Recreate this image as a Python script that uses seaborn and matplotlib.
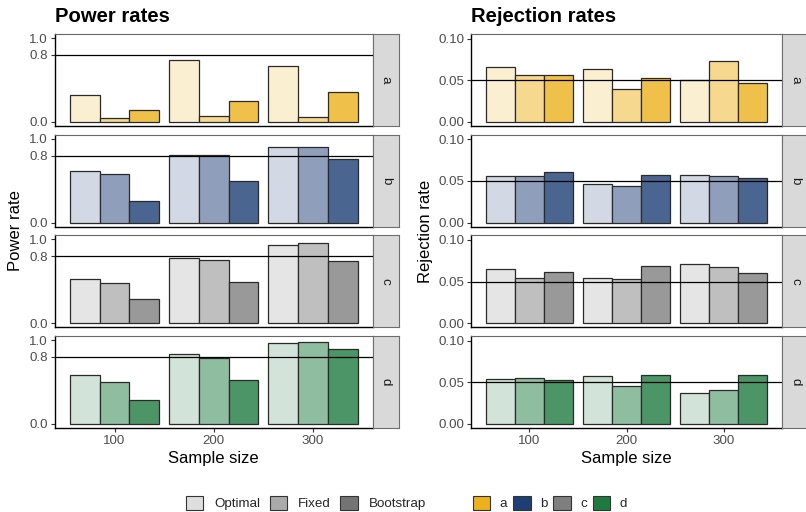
import numpy as np
import pandas as pd
import matplotlib
matplotlib.use("Agg")
import matplotlib.pyplot as plt
import seaborn as sns
from matplotlib.patches import Patch
from matplotlib.colors import to_rgb

# ---------------- data ----------------
sample_sizes = ["100", "200", "300"]
methods = ["Optimal", "Fixed", "Bootstrap"]
scenarios = ["a", "b", "c", "d"]
scenario_colors = ["#ECB11D", "#1E3E76", "#7F7F7F", "#1F7A40"]
method_alpha = [0.2, 0.5, 0.8]
method_legend_colors = ["#DEDEDE", "#AAAAAA", "#747474"]

# power rates: rows = methods (Optimal, Fixed, Bootstrap), cols = sample sizes
power_a = [[0.317, 0.738, 0.667], [0.048, 0.067, 0.060], [0.143, 0.254, 0.353]]
power_b = [[0.620, 0.812, 0.904], [0.584, 0.812, 0.908], [0.260, 0.500, 0.760]]
power_c = [[0.530, 0.781, 0.940], [0.482, 0.757, 0.960], [0.283, 0.494, 0.737]]
power_d = [[0.588, 0.840, 0.964], [0.500, 0.792, 0.984], [0.280, 0.520, 0.896]]

# rejection rates
reject_a = [[0.0656, 0.0632, 0.0504], [0.0560, 0.0400, 0.0736], [0.0564, 0.0528, 0.0464]]
reject_b = [[0.0556, 0.0460, 0.0572], [0.0560, 0.0444, 0.0560], [0.0608, 0.0576, 0.0540]]
reject_c = [[0.0653, 0.0538, 0.0709], [0.0546, 0.0526, 0.0680], [0.0610, 0.0685, 0.0602]]
reject_d = [[0.0542, 0.0574, 0.0375], [0.0550, 0.0454, 0.0406], [0.0530, 0.0590, 0.0582]]

power_target = 0.8
reject_target = 0.05

power_sets = [power_a, power_b, power_c, power_d]
reject_sets = [reject_a, reject_b, reject_c, reject_d]


def to_frame(values):
    rows = []
    for mi, m in enumerate(methods):
        for si, s in enumerate(sample_sizes):
            rows.append({"n": s, "method": m, "value": values[mi][si]})
    return pd.DataFrame(rows)


def blend(color, alpha):
    c = np.array(to_rgb(color))
    return tuple(alpha * c + (1 - alpha) * np.ones(3))


# ---------------- figure ----------------
sns.set_theme(style="white")
plt.rcParams["font.family"] = ["Liberation Sans", "DejaVu Sans"]

W, H = 806, 512
fig = plt.figure(figsize=(W / 100, H / 100), dpi=100)


def box(x0, y0, x1, y1):
    return [x0 / W, 1 - y1 / H, (x1 - x0) / W, (y1 - y0) / H]


row_tops = [34, 134.7, 235.3, 336]
row_h = 92
cols = [
    dict(x0=55, x1=372.5, sets=power_sets, ylim=(-0.05, 1.05), ticks=[0, 0.8, 1.0],
         labels=["0.0", "0.8", "1.0"], target=power_target,
         title="Power rates", ylabel="Power rate", ylab_x=16),
    dict(x0=471, x1=782, sets=reject_sets, ylim=(-0.005, 0.1055), ticks=[0, 0.05, 0.10],
         labels=["0.00", "0.05", "0.10"], target=reject_target,
         title="Rejection rates", ylabel="Rejection rate", ylab_x=425),
]

tick_col = "#4D4D4D"
for col in cols:
    for r, scen in enumerate(scenarios):
        top = row_tops[r]
        ax = fig.add_axes(box(col["x0"], top, col["x1"], top + row_h))
        df = to_frame(col["sets"][r])
        pal = [blend(scenario_colors[r], a) for a in method_alpha]
        sns.barplot(data=df, x="n", y="value", hue="method", order=sample_sizes,
                    hue_order=methods, palette=pal, width=0.9, gap=0,
                    edgecolor="#2a2a2a", linewidth=0.9, errorbar=None,
                    legend=False, ax=ax, saturation=1)
        ax.axhline(col["target"], color="black", lw=0.9, zorder=5)
        ax.set_xlim(-0.6, 2.6)
        ax.set_ylim(*col["ylim"])
        ax.set_yticks(col["ticks"])
        ax.set_yticklabels(col["labels"])
        ax.set_xlabel("")
        ax.set_ylabel("")
        ax.tick_params(axis="y", left=True, length=3, width=0.8, color="#333333",
                       labelsize=9.6, labelcolor=tick_col, pad=2)
        if r == len(scenarios) - 1:
            ax.tick_params(axis="x", bottom=True, length=3, width=0.8, color="#333333",
                           labelsize=9.6, labelcolor=tick_col, pad=2)
        else:
            ax.tick_params(axis="x", bottom=False, labelbottom=False)
        for side in ["top", "right"]:
            ax.spines[side].set_color("#666666")
            ax.spines[side].set_linewidth(0.8)
        for side in ["left", "bottom"]:
            ax.spines[side].set_color("black")
            ax.spines[side].set_linewidth(1.0)
        ax.set_facecolor("white")

        # strip
        sx = fig.add_axes(box(col["x1"], top, col["x1"] + 26.5, top + row_h))
        sx.set_facecolor("#D9D9D9")
        sx.set_xticks([])
        sx.set_yticks([])
        for sp in sx.spines.values():
            sp.set_color("#6E6E6E")
            sp.set_linewidth(0.8)
        sx.text(0.5, 0.5, scen, rotation=-90, ha="center", va="center",
                fontsize=9.6, color="#1A1A1A", transform=sx.transAxes)

    # titles and axis labels
    fig.text(col["x0"] / W, 1 - 17 / H, col["title"], fontsize=14.6, fontweight="bold",
             ha="left", va="center", color="black")
    fig.text(col["ylab_x"] / W, 1 - 231 / H, col["ylabel"], rotation=90, fontsize=12,
             ha="center", va="center", color="black")
    fig.text((col["x0"] + col["x1"]) / 2 / W, 1 - 459 / H, "Sample size", fontsize=12,
             ha="center", va="center", color="black")

# legends
h1 = [Patch(facecolor=c, edgecolor="#333333", linewidth=0.8) for c in method_legend_colors]
leg1 = fig.legend(h1, methods, loc="center", bbox_to_anchor=(306 / W, 1 - 503 / H),
                  ncol=3, frameon=False, fontsize=9.6, handlelength=1.3, handleheight=1.3,
                  handletextpad=0.85, columnspacing=0.7, borderaxespad=0, borderpad=0)
h2 = [Patch(facecolor=c, edgecolor="#333333", linewidth=0.8) for c in scenario_colors]
leg2 = fig.legend(h2, scenarios, loc="center", bbox_to_anchor=(550 / W, 1 - 503 / H),
                  ncol=4, frameon=False, fontsize=9.6, handlelength=1.3, handleheight=1.3,
                  handletextpad=0.7, columnspacing=0.45, borderaxespad=0, borderpad=0)

fig.savefig("out.png", dpi=100, facecolor="white")
